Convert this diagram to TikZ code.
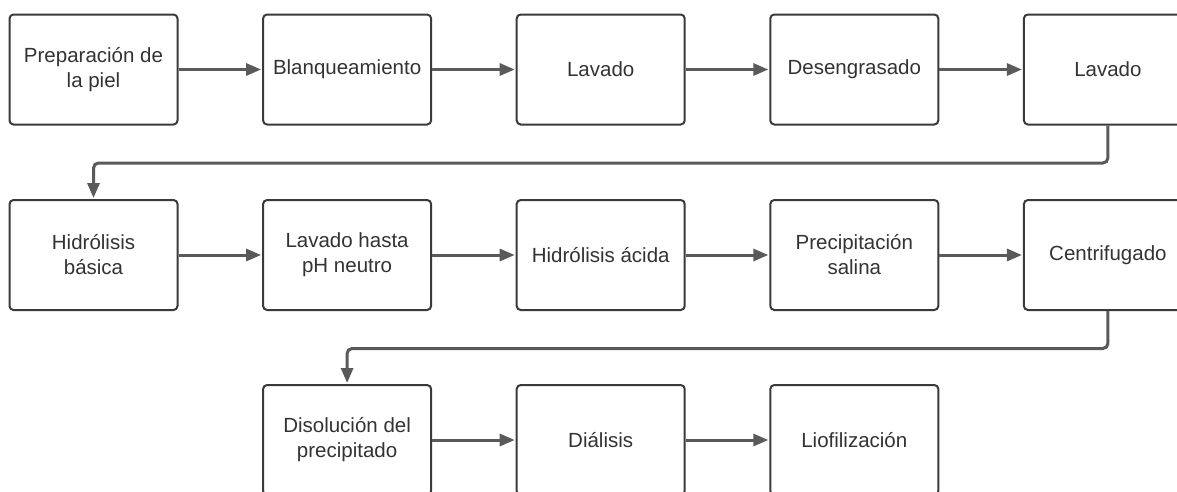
\documentclass[tikz,border=0pt]{standalone}
\usepackage{fontspec}
\setmainfont{Liberation Sans}
\usetikzlibrary{arrows.meta,positioning}
\definecolor{boxline}{HTML}{3A3A3A}
\definecolor{arrline}{HTML}{5A5A5A}
\definecolor{txt}{HTML}{333333}
\tikzset{
  stepbox/.style={draw=boxline, line width=2pt, rounded corners=4pt, fill=white,
    minimum width=168pt, minimum height=110pt, align=center, text=txt,
    font=\fontsize{20.5}{25}\selectfont, inner sep=2pt},
  flow/.style={draw=arrline, line width=3pt, rounded corners=5pt,
    -{Triangle[length=15pt,width=12pt]}, shorten >=1pt}
}
\begin{document}
\begin{tikzpicture}[x=1pt,y=-1pt]
\useasboundingbox (0,0) rectangle (1177,491);
\fill[white] (0,0) rectangle (1177,491);
% row 1
\node[stepbox] (a1) at (93.5,69.5) {Preparación de\\la piel};
\node[stepbox] (a2) at (347.1,69.5) {Blanqueamiento};
\node[stepbox] (a3) at (600.7,69.5) {Lavado};
\node[stepbox] (a4) at (854.3,69.5) {Desengrasado};
\node[stepbox] (a5) at (1107.9,69.5) {Lavado};
% row 2
\node[stepbox] (b1) at (93.5,255) {Hidrólisis\\básica};
\node[stepbox] (b2) at (347.1,255) {Lavado hasta\\pH neutro};
\node[stepbox] (b3) at (600.7,255) {Hidrólisis ácida};
\node[stepbox] (b4) at (854.3,255) {Precipitación\\salina};
\node[stepbox] (b5) at (1107.9,255) {Centrifugado};
% row 3
\node[stepbox] (c1) at (347.1,440) {Disolución del\\precipitado};
\node[stepbox] (c2) at (600.7,440) {Diálisis};
\node[stepbox] (c3) at (854.3,440) {Liofilización};
% connectors
\draw[flow] (a1) -- (a2);
\draw[flow] (a2) -- (a3);
\draw[flow] (a3) -- (a4);
\draw[flow] (a4) -- (a5);
\draw[flow] (a5.south) -- ++(0,37.5) -| (b1.north);
\draw[flow] (b1) -- (b2);
\draw[flow] (b2) -- (b3);
\draw[flow] (b3) -- (b4);
\draw[flow] (b4) -- (b5);
\draw[flow] (b5.south) -- ++(0,37.5) -| (c1.north);
\draw[flow] (c1) -- (c2);
\draw[flow] (c2) -- (c3);
\end{tikzpicture}
\end{document}
